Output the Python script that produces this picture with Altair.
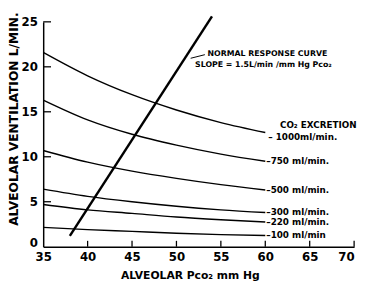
import altair as alt
import pandas as pd

# Alveolar Pco2 (mm Hg) sample points along each CO2-excretion isopleth
pco2 = [35, 40, 45, 50, 55, 60]
vent_1000 = [21.6, 19.0, 16.9, 15.2, 13.8, 12.7]
vent_750 = [16.3, 14.1, 12.5, 11.3, 10.3, 9.5]
vent_500 = [10.7, 9.4, 8.4, 7.6, 6.9, 6.3]
vent_300 = [6.4, 5.6, 5.0, 4.5, 4.1, 3.8]
vent_220 = [4.7, 4.1, 3.7, 3.3, 3.0, 2.75]
vent_100 = [2.15, 1.9, 1.7, 1.5, 1.35, 1.25]
excretion = ["1000", "750", "500", "300", "220", "100"]
curve_labels = ["1000ml/min.", "750 ml/min.", "500 ml/min.", "300 ml/min.", "220 ml/min.", "100 ml/min"]

# Normal response line (slope 1.5 L/min per mm Hg)
normal_pco2 = [38.0, 54.0]
normal_vent = [1.2, 25.6]

x_ticks = [35, 40, 45, 50, 55, 60, 65, 70]
y_ticks = [0, 5, 10, 15, 20, 25]

# annotation anchors (data units)
normal_text = ["NORMAL RESPONSE CURVE", "SLOPE = 1.5L/min /mm Hg Pco₂"]
normal_text_x = [53.5, 52.1]
normal_text_y = [21.45, 20.2]
leader_x = [51.6, 53.2]
leader_y = [20.95, 21.35]

series = [vent_1000, vent_750, vent_500, vent_300, vent_220, vent_100]
rows = []
for name, vals in zip(excretion, series):
    for x, v in zip(pco2, vals):
        rows.append({"pco2": x, "vent": v, "excretion": name})
curves_df = pd.DataFrame(rows)

ends_df = pd.DataFrame({
    "pco2": [pco2[-1]] * len(series),
    "vent": [s[-1] for s in series],
    "label": ["–" + l for l in curve_labels],
})
ends_main = ends_df.iloc[1:].copy()
end_1000 = ends_df.iloc[:1].copy()
end_1000["label"] = ["– " + curve_labels[0]]

normal_df = pd.DataFrame({"pco2": normal_pco2, "vent": normal_vent})
ntext_df = pd.DataFrame({"pco2": normal_text_x, "vent": normal_text_y, "label": normal_text})
leader_df = pd.DataFrame({"pco2": [leader_x[0]], "pco2b": [leader_x[1]],
                          "vent": [leader_y[0]], "ventb": [leader_y[1]]})
xt_df = pd.DataFrame({"pco2": x_ticks[1:]})
yt_df = pd.DataFrame({"vent": y_ticks[1:]})

W, H = 318, 230
FONT = "DejaVu Sans"
xs = alt.Scale(domain=[35, 70], nice=False, zero=False)
ys = alt.Scale(domain=[0, 25], nice=False)

xaxis = alt.Axis(
    values=x_ticks, format="d", title="ALVEOLAR  Pco₂ mm Hg", grid=False, ticks=False,
    domainColor="black", domainWidth=1.5, labelColor="black", labelFont=FONT,
    labelFontSize=12, labelFontWeight="bold", labelPadding=5,
    labelAlign=alt.condition("datum.value == 70", alt.value("right"), alt.value("center")),
    titleFont=FONT, titleFontSize=11, titleFontWeight="bold", titleColor="black",
    titleX=150, titleY=30, titleAlign="center", titleBaseline="middle",
)
yaxis = alt.Axis(
    values=y_ticks, format="d", title="ALVEOLAR VENTILATION L/MIN.", grid=False, ticks=False,
    domainColor="black", domainWidth=1.5, labelColor="black", labelFont=FONT,
    labelFontSize=12, labelFontWeight="bold", labelPadding=6,
    labelOffset=alt.condition("datum.value == 0", alt.value(-4), alt.value(0)),
    titleFont=FONT, titleFontSize=12.5, titleFontWeight="bold", titleColor="black",
    titleAngle=270, titleX=-30, titleY=99, titleAlign="center", titleBaseline="middle",
)

X = alt.X("pco2:Q", scale=xs, axis=xaxis)
Y = alt.Y("vent:Q", scale=ys, axis=yaxis)

curves = alt.Chart(curves_df).mark_line(color="black", strokeWidth=1.4, interpolate="monotone").encode(
    x=X, y=Y, detail="excretion:N")
normal = alt.Chart(normal_df).mark_line(color="black", strokeWidth=2.5).encode(x=X, y=Y)

xticks = alt.Chart(xt_df).mark_rule(color="black", strokeWidth=1.3).encode(
    x=X, y=alt.value(H), y2=alt.value(H - 6))
yticks = alt.Chart(yt_df).mark_rule(color="black", strokeWidth=1.3).encode(
    y=Y, x=alt.value(0), x2=alt.value(8))

end_text = alt.Chart(ends_main).mark_text(
    align="left", baseline="middle", dx=1, font=FONT, fontSize=9, fontWeight="bold", color="black"
).encode(x=X, y=Y, text="label:N")
end_1000_text = alt.Chart(end_1000).mark_text(
    align="left", baseline="middle", dx=3, dy=5, font=FONT, fontSize=9, fontWeight="bold", color="black"
).encode(x=X, y=Y, text="label:N")
co2_text = alt.Chart(end_1000).mark_text(
    align="left", baseline="middle", dx=15, dy=-8, font=FONT, fontSize=9, fontWeight="bold", color="black"
).encode(x=X, y=Y, text=alt.value("CO₂ EXCRETION"))

ntext = alt.Chart(ntext_df).mark_text(
    align="left", baseline="middle", font=FONT, fontSize=8, fontWeight="bold", color="black"
).encode(x=X, y=Y, text="label:N")
leader = alt.Chart(leader_df).mark_rule(color="black", strokeWidth=1).encode(
    x=X, y=Y, x2="pco2b:Q", y2="ventb:Q")

chart = alt.layer(
    curves, normal, xticks, yticks, end_text, end_1000_text, co2_text, ntext, leader
).properties(
    width=W, height=H,
    autosize=alt.AutoSizeParams(type="none"),
    padding={"left": 36, "top": 11, "right": 5, "bottom": 36},
    background="white",
).configure_view(stroke=None)

chart.save("out.html", embed_options={"renderer": "svg", "actions": False})
